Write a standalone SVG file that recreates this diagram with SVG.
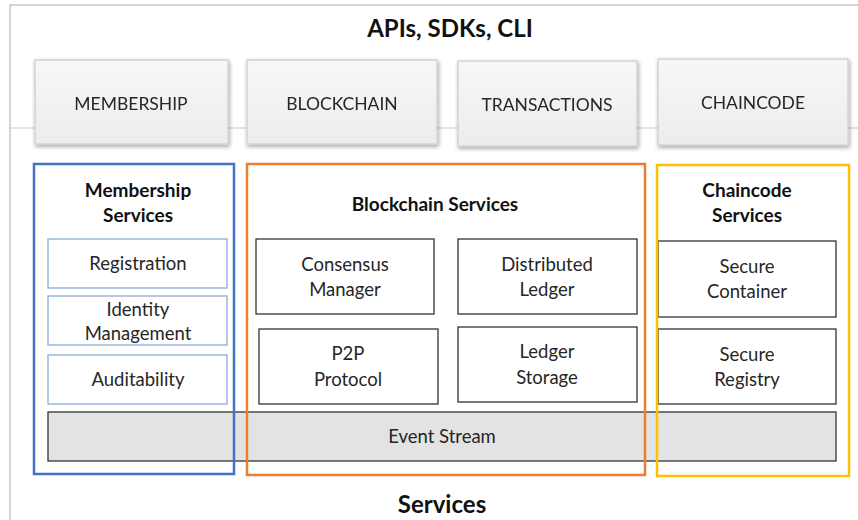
<svg xmlns="http://www.w3.org/2000/svg" width="858" height="520" viewBox="0 0 858 520">
<defs>
<filter id="sh" x="-10%" y="-10%" width="130%" height="140%">
<feGaussianBlur in="SourceAlpha" stdDeviation="2"/>
<feOffset dx="1" dy="2" result="b"/>
<feComponentTransfer><feFuncA type="linear" slope="0.35"/></feComponentTransfer>
<feMerge><feMergeNode/><feMergeNode in="SourceGraphic"/></feMerge>
</filter>
<linearGradient id="bg" x1="0" y1="0" x2="0" y2="1">
<stop offset="0" stop-color="#f7f7f7"/><stop offset="1" stop-color="#ececec"/>
</linearGradient>
</defs>
<style>
text{font-family:Lato,"Liberation Sans",sans-serif;fill:#262626;text-anchor:middle}
.h{font-weight:bold;font-size:24px;fill:#111}
.t{font-weight:bold;font-size:19px;fill:#111}
.b{font-size:18.5px}
.k{font-size:17.5px}
.btn{fill:url(#bg);stroke:#d4d4d4;stroke-width:1.5}
.inner{fill:#fff;stroke:#333;stroke-width:1.3}
.mem{fill:#fff;stroke:#8eaadb;stroke-width:1.3}
</style>
<rect width="858" height="520" fill="#fff"/>
<g id="frame">
<path d="M10,520 V5 H858" fill="none" stroke="#c8c8c8" stroke-width="1.5"/>
<line x1="10" y1="128" x2="858" y2="128" stroke="#c8c8c8" stroke-width="1.2"/>
<text class="h" x="450" y="37">APIs, SDKs, CLI</text>
<text class="h" x="442" y="513">Services</text>
</g>
<g id="api-membership" filter="url(#sh)"><rect class="btn" x="35" y="60" width="193" height="84"/><text class="k" x="131" y="110">MEMBERSHIP</text></g>
<g id="api-blockchain" filter="url(#sh)"><rect class="btn" x="247" y="60" width="190" height="84"/><text class="k" x="342" y="110">BLOCKCHAIN</text></g>
<g id="api-transactions" filter="url(#sh)"><rect class="btn" x="458" y="61" width="179" height="85"/><text class="k" x="547" y="111">TRANSACTIONS</text></g>
<g id="api-chaincode" filter="url(#sh)"><rect class="btn" x="658" y="59" width="190" height="86"/><text class="k" x="753" y="109">CHAINCODE</text></g>
<g id="event-stream"><rect x="48" y="412" width="788" height="49" fill="#e3e3e3" stroke="#333" stroke-width="1.3"/><text class="b" x="442" y="443">Event Stream</text></g>
<g id="membership-services">
<rect x="34" y="164" width="200" height="310" fill="none" stroke="#4472c4" stroke-width="2.5"/>
<text class="t" x="138" y="197">Membership</text>
<text class="t" x="138" y="222">Services</text>
</g>
<g id="registration"><rect class="mem" x="48" y="239" width="179" height="49"/><text class="b" x="138" y="270">Registration</text></g>
<g id="identity-management"><rect class="mem" x="48" y="296" width="179" height="49"/><text class="b" x="138" y="316">Identity</text><text class="b" x="138" y="340">Management</text></g>
<g id="auditability"><rect class="mem" x="48" y="355" width="179" height="49"/><text class="b" x="138" y="386">Auditability</text></g>
<g id="blockchain-services">
<rect x="247" y="164" width="398" height="311" fill="none" stroke="#ed7d31" stroke-width="2.5"/>
<text class="t" x="435" y="211">Blockchain Services</text>
</g>
<g id="consensus-manager"><rect class="inner" x="256" y="239" width="178" height="75"/><text class="b" x="345" y="271">Consensus</text><text class="b" x="345" y="296">Manager</text></g>
<g id="distributed-ledger"><rect class="inner" x="458" y="239" width="179" height="75"/><text class="b" x="547" y="271">Distributed</text><text class="b" x="547" y="296">Ledger</text></g>
<g id="p2p-protocol"><rect class="inner" x="259" y="329" width="179" height="75"/><text class="b" x="348" y="360">P2P</text><text class="b" x="348" y="386">Protocol</text></g>
<g id="ledger-storage"><rect class="inner" x="458" y="327" width="179" height="75"/><text class="b" x="547" y="358">Ledger</text><text class="b" x="547" y="384">Storage</text></g>
<g id="secure-container"><rect class="inner" x="658" y="241" width="178" height="76"/><text class="b" x="747" y="273">Secure</text><text class="b" x="747" y="298">Container</text></g>
<g id="secure-registry"><rect class="inner" x="658" y="329" width="178" height="75"/><text class="b" x="747" y="361">Secure</text><text class="b" x="747" y="386">Registry</text></g>
<g id="chaincode-services">
<rect x="657" y="165" width="192" height="311" fill="none" stroke="#ffc000" stroke-width="2.5"/>
<text class="t" x="747" y="197">Chaincode</text>
<text class="t" x="747" y="222">Services</text>
</g>
<g id="connectors"/>
</svg>
